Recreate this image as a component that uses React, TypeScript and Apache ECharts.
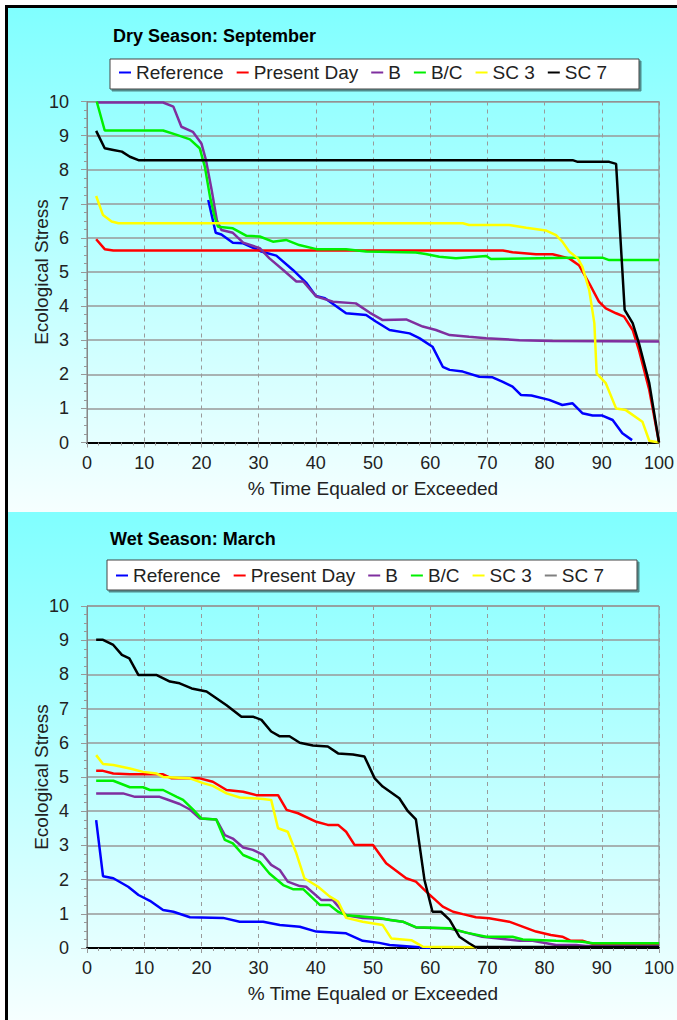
import React, { useEffect, useRef } from "react";
import * as echarts from "echarts";

const seriesNames = ["Reference", "Present Day", "B", "B/C", "SC 3", "SC 7"];
const seriesColors = ["#0000FF", "#FF0000", "#7F2F9F", "#00F000", "#FFFF00", "#000000"];
const xTickLabels = ["0", "10", "20", "30", "40", "50", "60", "70", "80", "90", "100"];

// Dry season: September  [percent time, ecological stress]
const dryReference = [[21.2,7.11],[22.5,6.15],[23.5,6.1],[25.5,5.86],[27.3,5.84],[30.5,5.6],[33.1,5.48],[36,5.06],[38.3,4.69],[40,4.3],[41.6,4.23],[45.3,3.79],[48.8,3.74],[50.5,3.55],[52.9,3.3],[56.4,3.2],[58.1,3.06],[60.4,2.81],[62.2,2.22],[63.4,2.13],[65.7,2.08],[68.6,1.93],[70.9,1.91],[72.7,1.78],[74.4,1.64],[75.9,1.39],[77.7,1.38],[80.8,1.25],[83.1,1.1],[84.9,1.15],[86.6,0.86],[88.4,0.79],[90.1,0.79],[91.9,0.66],[93.6,0.27],[95.3,0.07]];
const dryPresent = [[1.6,5.96],[3.1,5.67],[4.6,5.63],[72.7,5.63],[74.4,5.58],[78.5,5.52],[81.4,5.52],[84.3,5.4],[86,5.2],[87.8,4.67],[89.5,4.13],[90.7,3.93],[92.5,3.79],[93.9,3.69],[95.4,3.3],[96.5,2.71],[98.3,1.54],[100,0]];
const dryB = [[1.7,9.97],[13.3,9.97],[15.1,9.85],[16.5,9.26],[18.5,9.11],[20,8.77],[20.8,8.28],[21.8,7.4],[22.7,6.52],[23.5,6.23],[25.5,6.15],[27.3,5.86],[30.2,5.7],[31.9,5.4],[34.3,5.06],[36.6,4.72],[37.8,4.72],[40.1,4.28],[43,4.13],[47,4.08],[49.4,3.81],[51.7,3.59],[55.8,3.61],[58.7,3.4],[61,3.3],[63.4,3.15],[66.8,3.1],[69.8,3.06],[75.6,3.0],[81.4,2.98],[100,2.96]];
const dryBC = [[1.7,10],[3.1,9.15],[13.3,9.15],[15.7,9.02],[18,8.89],[19.7,8.63],[20.6,8.09],[21.5,7.21],[22.3,6.62],[22.9,6.33],[25.5,6.28],[27.9,6.06],[30.2,6.04],[32.5,5.89],[34.8,5.94],[37.1,5.79],[40.1,5.67],[45.3,5.67],[48.8,5.6],[57.5,5.57],[59.2,5.53],[61.6,5.45],[64.5,5.4],[69.8,5.47],[70.6,5.38],[84.3,5.42],[90.1,5.42],[91.3,5.35],[100,5.35]];
const drySC3 = [[1.6,7.23],[2.8,6.67],[4.3,6.48],[5.5,6.43],[65.7,6.43],[66.8,6.38],[73.8,6.38],[76.8,6.3],[80.2,6.22],[82,6.08],[83.1,5.89],[84.3,5.6],[85.8,5.4],[86.6,5.16],[87.8,4.47],[88.7,3.5],[89.1,2.03],[90.7,1.74],[92.5,1.0],[94.2,0.95],[97.1,0.61],[98.3,0.05],[100,0]];
const drySC7 = [[1.6,9.14],[3.1,8.63],[4.6,8.58],[6.1,8.53],[7.5,8.38],[9,8.28],[84.9,8.28],[85.8,8.23],[91.3,8.23],[92.5,8.17],[94,3.89],[95.4,3.5],[96.5,2.91],[98.3,1.74],[100,0]];

// Wet season: March
const wetReference = [[1.6,3.74],[2.8,2.1],[4.6,2.04],[7.2,1.79],[9,1.55],[11,1.38],[13.3,1.11],[15.1,1.06],[18,0.9],[23.8,0.88],[26.7,0.77],[30.8,0.77],[33.7,0.67],[37.2,0.62],[40.1,0.48],[45.3,0.43],[48.2,0.21],[51.1,0.15],[52.9,0.09],[57,0.04],[60,0]];
const wetPresent = [[1.6,5.18],[2.8,5.18],[4.6,5.1],[7.5,5.08],[13.3,5.08],[14.8,4.96],[19.7,4.96],[22,4.86],[24.4,4.62],[27.3,4.57],[29.6,4.47],[33.4,4.47],[34.9,4.04],[36.9,3.94],[40.1,3.69],[42.1,3.6],[43.9,3.6],[45.3,3.4],[46.8,3.01],[50,3.01],[52.3,2.48],[55.8,2.04],[57.5,1.94],[59.3,1.65],[62.2,1.21],[64,1.06],[65.7,0.99],[68,0.9],[70.3,0.87],[73.8,0.77],[78.5,0.48],[81.1,0.38],[83.1,0.33],[84.6,0.21],[86.6,0.21],[88.4,0.12],[100,0.12]];
const wetB = [[1.6,4.52],[6.3,4.52],[8.4,4.42],[12.7,4.42],[13.9,4.35],[16.2,4.21],[18,4.05],[19.7,3.79],[22.6,3.76],[24.1,3.3],[25.5,3.2],[27.3,2.94],[29,2.87],[30.8,2.72],[32.2,2.43],[33.7,2.28],[35.1,1.94],[37.2,1.81],[38.3,1.79],[41,1.4],[43,1.4],[44.7,1.06],[45.3,0.96],[48.2,0.88],[52,0.85],[55.2,0.77],[57.5,0.6],[63.4,0.57],[66.3,0.45],[69.1,0.33],[75.6,0.21],[77.9,0.21],[82,0.09],[85.5,0.09],[87.2,0.06],[100,0.06]];
const wetBC = [[1.6,4.89],[4.6,4.89],[7.5,4.7],[9.8,4.7],[11,4.62],[13.3,4.62],[15.7,4.42],[16.8,4.33],[18.6,4.04],[20,3.79],[22.6,3.76],[24.1,3.16],[25.5,3.06],[27.3,2.72],[30.2,2.52],[31.9,2.18],[34.3,1.84],[36,1.72],[37.8,1.72],[40.7,1.26],[42.4,1.26],[43.9,1.06],[45.3,0.96],[47.6,0.93],[51.1,0.88],[52.9,0.82],[55.2,0.77],[57.5,0.61],[63.4,0.58],[66.3,0.45],[69.8,0.33],[74.4,0.33],[76.2,0.25],[82,0.21],[86.6,0.18],[88.4,0.14],[100,0.14]];
const wetSC3 = [[1.6,5.64],[2.8,5.38],[4.6,5.35],[7.5,5.25],[9.8,5.15],[12.2,5.1],[13.3,5.0],[18,4.96],[20.3,4.82],[22,4.74],[24.4,4.52],[26.7,4.4],[30.8,4.36],[32.2,4.33],[33.4,3.5],[35.1,3.4],[36.6,2.77],[38,2.04],[40.4,1.79],[42.4,1.51],[43.9,1.36],[45.3,0.88],[48.2,0.77],[51.7,0.67],[53.2,0.28],[56.7,0.23],[58.7,0.04],[68,0.02]];
const wetSC7 = [[1.6,9.01],[2.8,9.01],[4.6,8.86],[6.1,8.57],[7.4,8.47],[9,7.98],[12.2,7.98],[14.5,7.79],[16.2,7.74],[18.3,7.59],[20.9,7.5],[24.4,7.1],[27,6.76],[29.1,6.76],[30.5,6.67],[32.2,6.33],[33.7,6.19],[35.4,6.19],[37.2,6.0],[39.5,5.92],[42.1,5.89],[43.9,5.69],[46.5,5.66],[48.5,5.6],[50.3,4.96],[51.7,4.72],[54.6,4.38],[56.1,4.0],[57.5,3.76],[59,1.99],[60.4,1.06],[61.9,1.06],[63.4,0.82],[65.1,0.33],[66.8,0.14],[67.9,0.03],[100,0.03]];

const drySeries = [dryReference, dryPresent, dryB, dryBC, drySC3, drySC7];
const wetSeries = [wetReference, wetPresent, wetB, wetBC, wetSC3, wetSC7];

const FONT = "'Liberation Sans', Arial, sans-serif";

function makeAxes(gridIndex: number) {
  const xAxis = {
    type: "value",
    gridIndex,
    min: 0,
    max: 100,
    interval: 10,
    name: "% Time Equaled or Exceeded",
    nameLocation: "middle",
    nameGap: 36,
    nameMoveOverlap: false,
    nameTextStyle: { fontFamily: FONT, fontSize: 19, color: "#222" },
    axisLine: { show: true, onZero: false, lineStyle: { color: "#000", width: 2 } },
    axisTick: { show: true, length: 5, lineStyle: { color: "#999" } },
    minorTick: { show: true, splitNumber: 5, length: 3, lineStyle: { color: "#999" } },
    axisLabel: {
      fontFamily: FONT,
      fontSize: 18,
      color: "#222",
      margin: 11,
      formatter: (v: number) => xTickLabels[Math.round(v / 10)] ?? String(v),
    },
    splitLine: { show: true, lineStyle: { color: "#9A9A9A", type: [4, 4], width: 1 } },
  };
  const yAxis = {
    type: "value",
    gridIndex,
    min: 0,
    max: 10,
    interval: 1,
    name: "Ecological Stress",
    nameLocation: "middle",
    nameGap: 36,
    nameMoveOverlap: false,
    nameTextStyle: { fontFamily: FONT, fontSize: 19, color: "#222" },
    axisLine: { show: true, lineStyle: { color: "#888", width: 1 } },
    axisTick: { show: true, length: 6, lineStyle: { color: "#999" } },
    minorTick: { show: true, splitNumber: 4, length: 3, lineStyle: { color: "#999" } },
    axisLabel: { fontFamily: FONT, fontSize: 18, color: "#222", margin: 18 },
    splitLine: { show: true, lineStyle: { color: "#999999", width: 1.5 } },
  };
  return { xAxis, yAxis };
}

export default function App() {
  const ref = useRef<HTMLDivElement>(null);
  useEffect(() => {
    if (!ref.current) return;
    const chart = echarts.init(ref.current, null, { renderer: "svg" });
    const a0 = makeAxes(0);
    const a1 = makeAxes(1);
    const series: any[] = [];
    const addSeries = (arr: number[][][], idx: number) => {
      arr.forEach((d, i) => {
        series.push({
          type: "line",
          name: seriesNames[i],
          xAxisIndex: idx,
          yAxisIndex: idx,
          data: d,
          showSymbol: false,
          symbol: "none",
          color: seriesColors[i],
          lineStyle: { color: seriesColors[i], width: 2.5 },
          z: 3 + i,
        });
      });
    };
    addSeries(drySeries, 0);
    addSeries(wetSeries, 1);

    const bgGrad = () =>
      new echarts.graphic.LinearGradient(0, 0, 0, 1, [
        { offset: 0, color: "#80FFFF" },
        { offset: 1, color: "#F6FFFF" },
      ]);

    const legendCommon = {
      orient: "horizontal",
      icon: "rect",
      itemWidth: 12,
      itemHeight: 2,
      itemGap: 13,
      padding: 0,
      z: 20,
      textStyle: { fontFamily: FONT, fontSize: 19, color: "#222" },
    };

    chart.setOption({
      animation: false,
      backgroundColor: "#FFFFFF",
      graphic: [
        { type: "rect", z: -100, silent: true, shape: { x: 8, y: 8, width: 669, height: 504 }, style: { fill: bgGrad() } },
        { type: "rect", z: -100, silent: true, shape: { x: 8, y: 512, width: 669, height: 508 }, style: { fill: bgGrad() } },
        { type: "rect", z: 50, silent: true, shape: { x: 5, y: 5, width: 672, height: 3 }, style: { fill: "#000" } },
        { type: "rect", z: 50, silent: true, shape: { x: 5, y: 5, width: 3, height: 1015 }, style: { fill: "#000" } },
        {
          type: "rect", z: 10, silent: true,
          shape: { x: 110, y: 59, width: 529, height: 30 },
          style: { fill: "#FFFFFF", stroke: "#444", lineWidth: 1, shadowColor: "rgba(0,0,0,0.45)", shadowOffsetX: 2, shadowOffsetY: 2, shadowBlur: 1 },
        },
        {
          type: "rect", z: 10, silent: true,
          shape: { x: 107, y: 560, width: 530, height: 30 },
          style: { fill: "#FFFFFF", stroke: "#444", lineWidth: 1, shadowColor: "rgba(0,0,0,0.45)", shadowOffsetX: 2, shadowOffsetY: 2, shadowBlur: 1 },
        },
      ],
      title: [
        { text: "Dry Season: September", left: 113, top: 27, padding: 0, textStyle: { fontFamily: FONT, fontSize: 18, fontWeight: "bold", color: "#000" } },
        { text: "Wet Season: March", left: 110, top: 530, padding: 0, textStyle: { fontFamily: FONT, fontSize: 18, fontWeight: "bold", color: "#000" } },
      ],
      legend: [
        { ...legendCommon, left: 119, top: 63, data: seriesNames },
        {
          ...legendCommon,
          left: 116,
          top: 566,
          data: seriesNames.map((n) => (n === "SC 7" ? { name: n, itemStyle: { color: "#808080" } } : { name: n })),
        },
      ],
      grid: [
        { left: 87, top: 101.5, width: 573, height: 341, show: true, backgroundColor: "transparent", borderColor: "#808080", borderWidth: 1 },
        { left: 87, top: 606, width: 573, height: 342, show: true, backgroundColor: "transparent", borderColor: "#808080", borderWidth: 1 },
      ],
      xAxis: [a0.xAxis, a1.xAxis],
      yAxis: [a0.yAxis, a1.yAxis],
      series,
    });
    return () => chart.dispose();
  }, []);
  return <div ref={ref} style={{ position: "absolute", left: 0, top: 0, width: 677, height: 1020 }} />;
}
